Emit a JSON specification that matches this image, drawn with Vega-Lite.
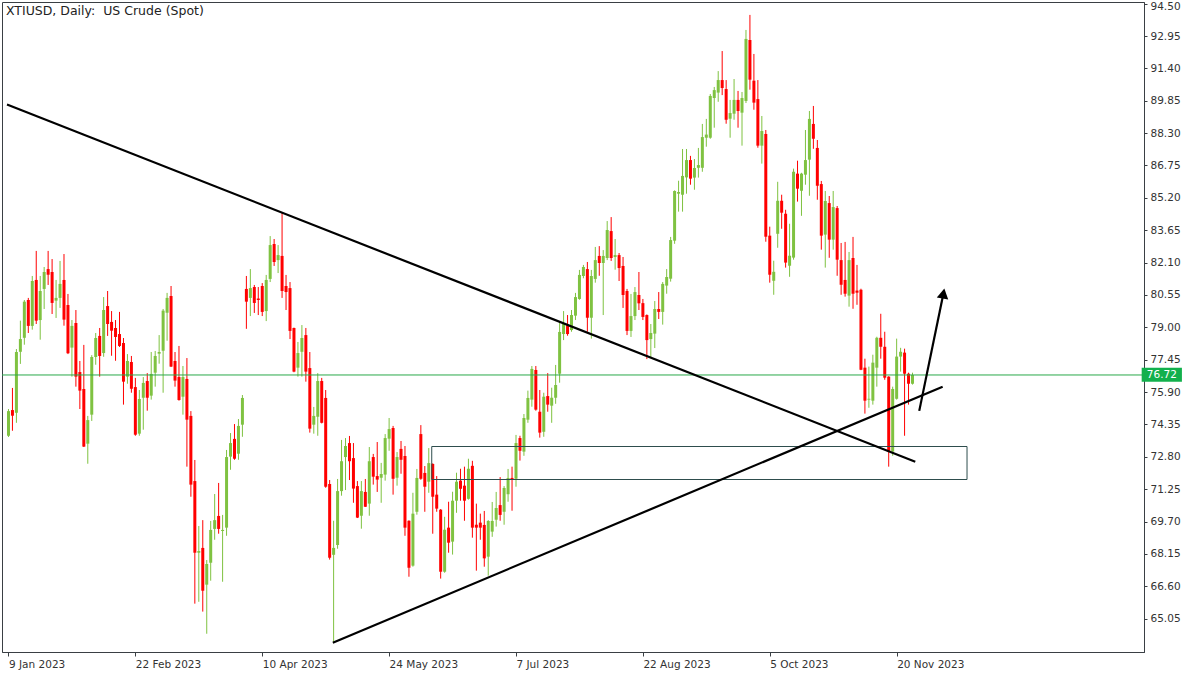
{
"$schema": "https://vega.github.io/schema/vega-lite/v6.json",
"width": 1142, "height": 650,
"autosize": {"type": "none"},
"padding": {"left": 2, "top": 2, "right": 56, "bottom": 23},
"background": "#ffffff",
"title": {"text": "XTIUSD, Daily:\u00a0 US Crude (Spot)", "anchor": "start", "frame": "group", "offset": -16, "font": "DejaVu Sans", "fontSize": 12.5, "fontWeight": "normal", "color": "#222222", "dx": 4},
"config": {
 "view": {"stroke": "#3a3f44", "strokeWidth": 1},
 "axis": {"grid": false, "domainColor": "#3a3f44", "tickColor": "#3a3f44", "labelColor": "#333333", "labelFont": "DejaVu Sans", "labelFontSize": 10.5, "labelOverlap": false}
},
"datasets": {
"candles": [
{"i":0,"o":73.81,"h":75.09,"l":73.75,"c":74.99},
{"i":1,"o":75.04,"h":76.10,"l":74.05,"c":74.77},
{"i":2,"o":74.91,"h":77.96,"l":74.43,"c":77.82},
{"i":3,"o":77.83,"h":79.32,"l":77.25,"c":78.44},
{"i":4,"o":78.50,"h":80.31,"l":78.17,"c":80.23},
{"i":5,"o":80.31,"h":80.41,"l":78.73,"c":79.07},
{"i":6,"o":79.07,"h":81.46,"l":78.89,"c":81.22},
{"i":7,"o":81.27,"h":82.66,"l":79.16,"c":79.32},
{"i":8,"o":79.35,"h":81.46,"l":78.41,"c":80.74},
{"i":9,"o":80.84,"h":81.89,"l":79.88,"c":81.65},
{"i":10,"o":81.79,"h":82.66,"l":81.03,"c":81.52},
{"i":11,"o":81.65,"h":82.27,"l":79.64,"c":80.17},
{"i":12,"o":80.28,"h":81.27,"l":79.45,"c":80.41},
{"i":13,"o":80.41,"h":82.18,"l":79.93,"c":81.08},
{"i":14,"o":81.27,"h":82.51,"l":79.08,"c":79.37},
{"i":15,"o":80.07,"h":80.60,"l":77.72,"c":77.76},
{"i":16,"o":78.03,"h":79.35,"l":76.64,"c":79.07},
{"i":17,"o":79.21,"h":79.83,"l":76.16,"c":76.64},
{"i":18,"o":76.86,"h":77.39,"l":75.09,"c":75.97},
{"i":19,"o":76.05,"h":78.16,"l":73.27,"c":73.29},
{"i":20,"o":73.43,"h":74.76,"l":72.47,"c":74.56},
{"i":21,"o":74.82,"h":77.67,"l":74.52,"c":77.58},
{"i":22,"o":77.58,"h":78.73,"l":77.21,"c":78.49},
{"i":23,"o":78.59,"h":78.97,"l":76.64,"c":77.63},
{"i":24,"o":77.77,"h":80.45,"l":77.59,"c":79.83},
{"i":25,"o":80.02,"h":80.74,"l":78.59,"c":79.16},
{"i":26,"o":79.26,"h":79.78,"l":77.64,"c":78.84},
{"i":27,"o":78.97,"h":79.35,"l":77.40,"c":78.54},
{"i":28,"o":78.68,"h":79.74,"l":78.06,"c":78.11},
{"i":29,"o":78.25,"h":78.49,"l":75.30,"c":76.40},
{"i":30,"o":76.64,"h":77.72,"l":76.30,"c":77.39},
{"i":31,"o":77.34,"h":77.63,"l":75.87,"c":76.06},
{"i":32,"o":76.14,"h":76.58,"l":73.81,"c":73.86},
{"i":33,"o":73.91,"h":76.00,"l":73.81,"c":75.57},
{"i":34,"o":75.63,"h":76.62,"l":74.10,"c":76.34},
{"i":35,"o":76.43,"h":76.81,"l":75.01,"c":75.63},
{"i":36,"o":75.73,"h":77.82,"l":75.54,"c":76.77},
{"i":37,"o":76.83,"h":77.87,"l":76.16,"c":77.63},
{"i":38,"o":77.74,"h":78.63,"l":77.26,"c":77.82},
{"i":39,"o":77.88,"h":79.88,"l":75.87,"c":79.80},
{"i":40,"o":79.70,"h":80.65,"l":78.36,"c":80.41},
{"i":41,"o":80.50,"h":80.98,"l":77.10,"c":77.12},
{"i":42,"o":77.39,"h":77.82,"l":76.16,"c":76.45},
{"i":43,"o":76.62,"h":78.11,"l":75.49,"c":75.52},
{"i":44,"o":75.68,"h":77.15,"l":74.82,"c":76.62},
{"i":45,"o":76.53,"h":77.53,"l":72.33,"c":74.58},
{"i":46,"o":74.76,"h":74.99,"l":70.89,"c":71.47},
{"i":47,"o":71.64,"h":72.65,"l":65.77,"c":68.21},
{"i":48,"o":68.21,"h":69.49,"l":65.86,"c":68.29},
{"i":49,"o":68.44,"h":69.77,"l":65.39,"c":66.39},
{"i":50,"o":66.68,"h":67.86,"l":64.33,"c":67.67},
{"i":51,"o":67.73,"h":69.73,"l":66.87,"c":69.30},
{"i":52,"o":69.35,"h":71.02,"l":68.83,"c":69.77},
{"i":53,"o":69.97,"h":71.55,"l":69.12,"c":69.35},
{"i":54,"o":69.25,"h":70.02,"l":66.82,"c":69.30},
{"i":55,"o":69.41,"h":73.13,"l":69.02,"c":72.79},
{"i":56,"o":72.81,"h":73.94,"l":72.18,"c":73.46},
{"i":57,"o":73.66,"h":74.37,"l":72.66,"c":72.71},
{"i":58,"o":72.95,"h":74.61,"l":72.66,"c":74.28},
{"i":59,"o":74.34,"h":75.76,"l":73.76,"c":75.62},
{"i":60,"o":80.84,"h":81.46,"l":78.93,"c":80.23},
{"i":61,"o":80.41,"h":81.79,"l":79.54,"c":80.88},
{"i":62,"o":80.93,"h":81.03,"l":79.69,"c":80.17},
{"i":63,"o":80.38,"h":80.93,"l":79.59,"c":80.31},
{"i":64,"o":80.98,"h":81.12,"l":79.54,"c":79.74},
{"i":65,"o":79.78,"h":81.51,"l":79.30,"c":81.27},
{"i":66,"o":81.32,"h":83.37,"l":81.17,"c":82.94},
{"i":67,"o":82.99,"h":83.23,"l":81.94,"c":82.13},
{"i":68,"o":82.22,"h":82.94,"l":81.60,"c":82.46},
{"i":69,"o":82.42,"h":84.52,"l":80.41,"c":80.74},
{"i":70,"o":80.98,"h":81.51,"l":79.83,"c":80.69},
{"i":71,"o":80.88,"h":81.17,"l":78.44,"c":78.83},
{"i":72,"o":78.97,"h":78.99,"l":76.85,"c":76.88},
{"i":73,"o":77.07,"h":78.30,"l":76.64,"c":77.77},
{"i":74,"o":77.83,"h":79.11,"l":76.64,"c":78.49},
{"i":75,"o":78.63,"h":78.97,"l":76.40,"c":76.88},
{"i":76,"o":77.05,"h":77.82,"l":73.96,"c":74.15},
{"i":77,"o":74.34,"h":75.19,"l":73.91,"c":74.76},
{"i":78,"o":74.72,"h":76.81,"l":73.81,"c":76.43},
{"i":79,"o":76.43,"h":76.58,"l":74.40,"c":74.43},
{"i":80,"o":75.62,"h":76.00,"l":71.32,"c":71.37},
{"i":81,"o":71.50,"h":71.69,"l":67.88,"c":67.97},
{"i":82,"o":68.11,"h":69.74,"l":63.90,"c":68.44},
{"i":83,"o":68.58,"h":71.74,"l":68.40,"c":71.16},
{"i":84,"o":71.16,"h":73.61,"l":70.94,"c":72.59},
{"i":85,"o":72.79,"h":73.70,"l":71.21,"c":73.32},
{"i":86,"o":73.46,"h":73.80,"l":71.69,"c":72.59},
{"i":87,"o":72.74,"h":73.46,"l":70.60,"c":71.28},
{"i":88,"o":71.40,"h":71.64,"l":69.87,"c":69.89},
{"i":89,"o":69.98,"h":71.64,"l":69.36,"c":71.16},
{"i":90,"o":71.12,"h":71.74,"l":70.40,"c":70.41},
{"i":91,"o":70.56,"h":73.27,"l":69.98,"c":72.59},
{"i":92,"o":72.79,"h":72.94,"l":71.47,"c":71.85},
{"i":93,"o":71.88,"h":73.51,"l":71.12,"c":71.71},
{"i":94,"o":71.80,"h":72.51,"l":70.60,"c":71.98},
{"i":95,"o":71.95,"h":73.89,"l":71.66,"c":73.70},
{"i":96,"o":73.67,"h":74.66,"l":73.09,"c":74.13},
{"i":97,"o":74.18,"h":74.28,"l":70.99,"c":71.75},
{"i":98,"o":71.80,"h":73.03,"l":71.42,"c":72.79},
{"i":99,"o":73.18,"h":73.56,"l":71.99,"c":72.66},
{"i":100,"o":72.84,"h":73.32,"l":69.02,"c":69.41},
{"i":101,"o":69.74,"h":69.76,"l":67.06,"c":67.49},
{"i":102,"o":67.59,"h":71.08,"l":67.54,"c":70.08},
{"i":103,"o":70.17,"h":72.22,"l":70.03,"c":71.79},
{"i":104,"o":73.89,"h":74.32,"l":71.70,"c":71.75},
{"i":105,"o":72.03,"h":72.36,"l":70.17,"c":71.37},
{"i":106,"o":71.61,"h":73.22,"l":71.08,"c":72.50},
{"i":107,"o":72.46,"h":72.49,"l":69.12,"c":70.89},
{"i":108,"o":70.99,"h":71.88,"l":70.17,"c":70.32},
{"i":109,"o":70.27,"h":70.30,"l":66.97,"c":67.30},
{"i":110,"o":67.30,"h":69.93,"l":67.25,"c":69.31},
{"i":111,"o":69.41,"h":70.65,"l":68.21,"c":68.69},
{"i":112,"o":68.74,"h":71.13,"l":68.12,"c":70.70},
{"i":113,"o":70.70,"h":72.04,"l":70.12,"c":71.61},
{"i":114,"o":71.66,"h":72.23,"l":70.70,"c":71.27},
{"i":115,"o":71.42,"h":72.33,"l":69.74,"c":70.70},
{"i":116,"o":70.79,"h":72.71,"l":70.75,"c":72.23},
{"i":117,"o":72.37,"h":72.61,"l":68.93,"c":69.41},
{"i":118,"o":69.55,"h":70.56,"l":67.35,"c":69.41},
{"i":119,"o":69.65,"h":70.08,"l":68.83,"c":69.41},
{"i":120,"o":69.54,"h":70.21,"l":67.54,"c":67.94},
{"i":121,"o":68.02,"h":69.77,"l":67.11,"c":69.73},
{"i":122,"o":69.22,"h":70.64,"l":68.97,"c":69.73},
{"i":123,"o":69.79,"h":71.12,"l":69.46,"c":70.35},
{"i":124,"o":70.49,"h":71.83,"l":69.74,"c":70.02},
{"i":125,"o":70.17,"h":71.40,"l":69.55,"c":71.31},
{"i":126,"o":71.01,"h":72.22,"l":70.65,"c":71.79},
{"i":127,"o":71.79,"h":72.33,"l":70.22,"c":71.72},
{"i":128,"o":71.75,"h":73.85,"l":71.37,"c":73.46},
{"i":129,"o":73.70,"h":73.81,"l":72.62,"c":73.09},
{"i":130,"o":73.05,"h":74.85,"l":72.85,"c":74.66},
{"i":131,"o":74.58,"h":75.97,"l":74.43,"c":75.62},
{"i":132,"o":75.54,"h":77.15,"l":75.20,"c":77.01},
{"i":133,"o":76.96,"h":77.15,"l":75.01,"c":75.06},
{"i":134,"o":74.96,"h":76.00,"l":73.72,"c":73.96},
{"i":135,"o":74.00,"h":75.87,"l":73.76,"c":75.68},
{"i":136,"o":75.71,"h":76.81,"l":74.96,"c":75.30},
{"i":137,"o":75.25,"h":76.11,"l":74.43,"c":75.63},
{"i":138,"o":75.63,"h":77.20,"l":75.34,"c":76.24},
{"i":139,"o":76.78,"h":79.26,"l":76.35,"c":78.78},
{"i":140,"o":78.68,"h":79.78,"l":78.39,"c":79.16},
{"i":141,"o":79.11,"h":79.59,"l":78.60,"c":78.68},
{"i":142,"o":78.87,"h":79.83,"l":78.79,"c":79.59},
{"i":143,"o":79.56,"h":80.65,"l":79.35,"c":80.45},
{"i":144,"o":80.36,"h":81.75,"l":80.32,"c":81.51},
{"i":145,"o":81.46,"h":81.99,"l":81.35,"c":81.89},
{"i":146,"o":81.79,"h":82.13,"l":78.79,"c":79.46},
{"i":147,"o":79.46,"h":81.75,"l":78.46,"c":81.46},
{"i":148,"o":81.32,"h":82.85,"l":81.14,"c":82.22},
{"i":149,"o":82.42,"h":82.89,"l":81.47,"c":82.08},
{"i":150,"o":82.08,"h":82.70,"l":79.59,"c":82.42},
{"i":151,"o":82.32,"h":84.09,"l":82.22,"c":83.66},
{"i":152,"o":83.61,"h":84.28,"l":82.18,"c":82.32},
{"i":153,"o":82.37,"h":83.23,"l":81.76,"c":82.46},
{"i":154,"o":82.46,"h":82.56,"l":81.22,"c":81.84},
{"i":155,"o":81.94,"h":82.37,"l":79.93,"c":80.55},
{"i":156,"o":80.74,"h":80.84,"l":78.63,"c":78.83},
{"i":157,"o":78.83,"h":80.60,"l":78.54,"c":79.54},
{"i":158,"o":79.54,"h":80.93,"l":79.35,"c":80.69},
{"i":159,"o":80.55,"h":81.65,"l":79.83,"c":80.15},
{"i":160,"o":80.16,"h":80.36,"l":79.35,"c":79.50},
{"i":161,"o":79.59,"h":79.62,"l":77.48,"c":78.39},
{"i":162,"o":78.44,"h":79.16,"l":77.58,"c":78.73},
{"i":163,"o":78.70,"h":80.26,"l":78.01,"c":79.88},
{"i":164,"o":79.88,"h":80.69,"l":79.40,"c":79.74},
{"i":165,"o":79.74,"h":81.17,"l":79.13,"c":81.08},
{"i":166,"o":81.00,"h":81.79,"l":80.61,"c":81.41},
{"i":167,"o":81.33,"h":83.33,"l":81.19,"c":83.18},
{"i":168,"o":83.15,"h":85.56,"l":83.00,"c":85.53},
{"i":169,"o":85.40,"h":86.02,"l":84.54,"c":85.48},
{"i":170,"o":85.35,"h":87.54,"l":84.54,"c":86.25},
{"i":171,"o":86.18,"h":87.54,"l":85.40,"c":87.01},
{"i":172,"o":87.01,"h":87.21,"l":85.83,"c":86.12},
{"i":173,"o":86.17,"h":87.06,"l":85.59,"c":86.63},
{"i":174,"o":86.64,"h":87.59,"l":86.17,"c":86.77},
{"i":175,"o":86.64,"h":88.74,"l":86.45,"c":88.11},
{"i":176,"o":88.08,"h":88.98,"l":87.65,"c":88.23},
{"i":177,"o":88.08,"h":90.17,"l":88.03,"c":90.08},
{"i":178,"o":89.98,"h":90.51,"l":88.56,"c":90.36},
{"i":179,"o":90.24,"h":91.27,"l":89.80,"c":90.84},
{"i":180,"o":90.84,"h":92.23,"l":90.12,"c":90.46},
{"i":181,"o":90.41,"h":90.84,"l":88.75,"c":88.94},
{"i":182,"o":88.99,"h":89.89,"l":88.08,"c":89.26},
{"i":183,"o":89.23,"h":90.89,"l":88.94,"c":89.89},
{"i":184,"o":89.89,"h":90.32,"l":88.56,"c":89.36},
{"i":185,"o":89.28,"h":90.27,"l":87.70,"c":89.98},
{"i":186,"o":89.84,"h":93.24,"l":89.74,"c":92.81},
{"i":187,"o":92.76,"h":93.96,"l":90.38,"c":90.86},
{"i":188,"o":90.81,"h":92.09,"l":89.42,"c":89.76},
{"i":189,"o":89.93,"h":90.84,"l":87.60,"c":87.70},
{"i":190,"o":87.70,"h":89.12,"l":86.84,"c":88.40},
{"i":191,"o":88.26,"h":88.45,"l":83.10,"c":83.34},
{"i":192,"o":83.39,"h":83.82,"l":81.14,"c":81.52},
{"i":193,"o":81.23,"h":82.19,"l":80.56,"c":81.66},
{"i":194,"o":83.48,"h":85.97,"l":82.81,"c":85.06},
{"i":195,"o":85.06,"h":85.35,"l":83.72,"c":84.49},
{"i":196,"o":84.44,"h":84.63,"l":81.86,"c":82.10},
{"i":197,"o":81.95,"h":83.96,"l":81.42,"c":82.43},
{"i":198,"o":82.34,"h":86.60,"l":82.24,"c":86.45},
{"i":199,"o":86.36,"h":86.98,"l":85.02,"c":85.64},
{"i":200,"o":85.54,"h":86.40,"l":84.34,"c":86.36},
{"i":201,"o":86.31,"h":88.45,"l":85.83,"c":87.01},
{"i":202,"o":87.03,"h":89.36,"l":85.30,"c":88.98},
{"i":203,"o":88.74,"h":89.60,"l":87.55,"c":88.03},
{"i":204,"o":87.59,"h":87.97,"l":85.11,"c":85.78},
{"i":205,"o":85.86,"h":86.01,"l":82.72,"c":83.39},
{"i":206,"o":83.44,"h":85.53,"l":81.86,"c":85.05},
{"i":207,"o":84.95,"h":85.29,"l":82.33,"c":83.20},
{"i":208,"o":83.20,"h":85.53,"l":82.72,"c":84.76},
{"i":209,"o":84.71,"h":84.81,"l":81.47,"c":82.24},
{"i":210,"o":82.22,"h":83.04,"l":80.56,"c":81.04},
{"i":211,"o":81.27,"h":83.09,"l":80.47,"c":80.61},
{"i":212,"o":80.52,"h":82.61,"l":79.99,"c":82.22},
{"i":213,"o":82.32,"h":83.33,"l":79.89,"c":80.61},
{"i":214,"o":80.76,"h":81.99,"l":80.08,"c":80.66},
{"i":215,"o":80.80,"h":80.85,"l":76.95,"c":76.97},
{"i":216,"o":77.07,"h":77.50,"l":74.87,"c":75.49},
{"i":217,"o":75.54,"h":77.12,"l":75.15,"c":75.58},
{"i":218,"o":75.49,"h":77.69,"l":75.30,"c":77.31},
{"i":219,"o":77.07,"h":78.55,"l":76.16,"c":78.50},
{"i":220,"o":78.50,"h":79.65,"l":77.50,"c":78.07},
{"i":221,"o":78.07,"h":78.79,"l":76.49,"c":76.59},
{"i":222,"o":76.64,"h":76.66,"l":72.33,"c":73.05},
{"i":223,"o":73.05,"h":76.16,"l":72.85,"c":76.05},
{"i":224,"o":75.58,"h":78.46,"l":75.54,"c":77.60},
{"i":225,"o":77.60,"h":78.02,"l":76.88,"c":77.83},
{"i":226,"o":77.79,"h":77.98,"l":73.81,"c":76.78},
{"i":227,"o":76.78,"h":76.83,"l":75.30,"c":76.30},
{"i":228,"o":76.30,"h":76.83,"l":76.26,"c":76.72}
],
"trend": [
{"line":"down","i":-0.375,"p":89.67},
{"line":"down","i":228.7,"p":72.57},
{"line":"up","i":81.8,"p":63.90},
{"line":"up","i":235.6,"p":76.16},
{"line":"arrow","i":229.7,"p":75.00},
{"line":"arrow","i":235.8,"p":80.62}
]
},
"layer": [
{
 "data": {"name": "candles"},
 "mark": {"type": "rule", "strokeWidth": 1},
 "encoding": {
  "x": {"field": "i", "type": "quantitative", "scale": {"domain": [-0.375, 285.125], "nice": false, "zero": false},
   "axis": {"title": null, "values": [0, 32, 64, 96, 128, 160, 192, 224], "tickCount": 20, "labelAlign": "left", "labelPadding": 3, "tickSize": 4, "labelFlush": false, "labelOverlap": false,
    "labelExpr": "datum.value == 0 ? '9 Jan 2023' : datum.value == 32 ? '22 Feb 2023' : datum.value == 64 ? '10 Apr 2023' : datum.value == 96 ? '24 May 2023' : datum.value == 128 ? '7 Jul 2023' : datum.value == 160 ? '22 Aug 2023' : datum.value == 192 ? '5 Oct 2023' : '20 Nov 2023'"}},
  "y": {"field": "l", "type": "quantitative", "scale": {"domain": [63.456, 94.578], "nice": false, "zero": false},
   "axis": {"title": null, "orient": "right", "values": [65.05, 66.6, 68.15, 69.7, 71.25, 72.8, 74.35, 75.9, 77.45, 79.0, 80.55, 82.1, 83.65, 85.2, 86.75, 88.3, 89.85, 91.4, 92.95, 94.5], "tickCount": 40, "format": ".2f", "tickSize": 3, "labelPadding": 3, "labelFlush": 5, "labelFlushOffset": 2, "labelOverlap": false}},
  "y2": {"field": "h"},
  "color": {"condition": {"test": "datum.c >= datum.o", "value": "#7fc241"}, "value": "#ff0000"}
 }
},
{
 "data": {"name": "candles"},
 "mark": {"type": "bar", "size": 3},
 "encoding": {
  "x": {"field": "i", "type": "quantitative"},
  "y": {"field": "o", "type": "quantitative"},
  "y2": {"field": "c"},
  "color": {"condition": {"test": "datum.c >= datum.o", "value": "#7fc241"}, "value": "#ff0000"}
 }
},
{
 "data": {"values": [{"i1": 106.75, "i2": 241.75, "p1": 73.295, "p2": 71.715}]},
 "mark": {"type": "rect", "fillOpacity": 0, "stroke": "#2e4d4d", "strokeWidth": 1},
 "encoding": {
  "x": {"field": "i1", "type": "quantitative"},
  "x2": {"field": "i2"},
  "y": {"field": "p1", "type": "quantitative"},
  "y2": {"field": "p2"}
 }
},
{
 "data": {"values": [{"p": 76.72}]},
 "mark": {"type": "rule", "color": "#2aa84a", "strokeWidth": 1},
 "encoding": {
  "y": {"field": "p", "type": "quantitative"}
 }
},
{
 "data": {"name": "trend"},
 "mark": {"type": "line", "color": "#000000", "strokeWidth": 2.2},
 "encoding": {
  "x": {"field": "i", "type": "quantitative"},
  "y": {"field": "p", "type": "quantitative"},
  "detail": {"field": "line"}
 }
},
{
 "data": {"values": [{"i": 235.8, "p": 80.62}]},
 "mark": {"type": "point", "shape": "triangle-up", "size": 135, "angle": 10.6, "filled": true, "color": "#000000", "opacity": 1},
 "encoding": {
  "x": {"field": "i", "type": "quantitative"},
  "y": {"field": "p", "type": "quantitative"}
 }
},
{
 "data": {"values": [{"i1": 285.8, "i2": 295.95, "p1": 77.07, "p2": 76.40}]},
 "mark": {"type": "rect", "color": "#12b04c", "clip": false},
 "encoding": {
  "x": {"field": "i1", "type": "quantitative"},
  "x2": {"field": "i2"},
  "y": {"field": "p1", "type": "quantitative"},
  "y2": {"field": "p2"}
 }
},
{
 "data": {"values": [{"i": 290.9, "p": 76.72}]},
 "mark": {"type": "text", "color": "#ffffff", "font": "DejaVu Sans", "fontSize": 10.5, "align": "center", "baseline": "middle", "clip": false},
 "encoding": {
  "x": {"field": "i", "type": "quantitative"},
  "y": {"field": "p", "type": "quantitative"},
  "text": {"field": "p", "format": ".2f"}
 }
}
]
}
